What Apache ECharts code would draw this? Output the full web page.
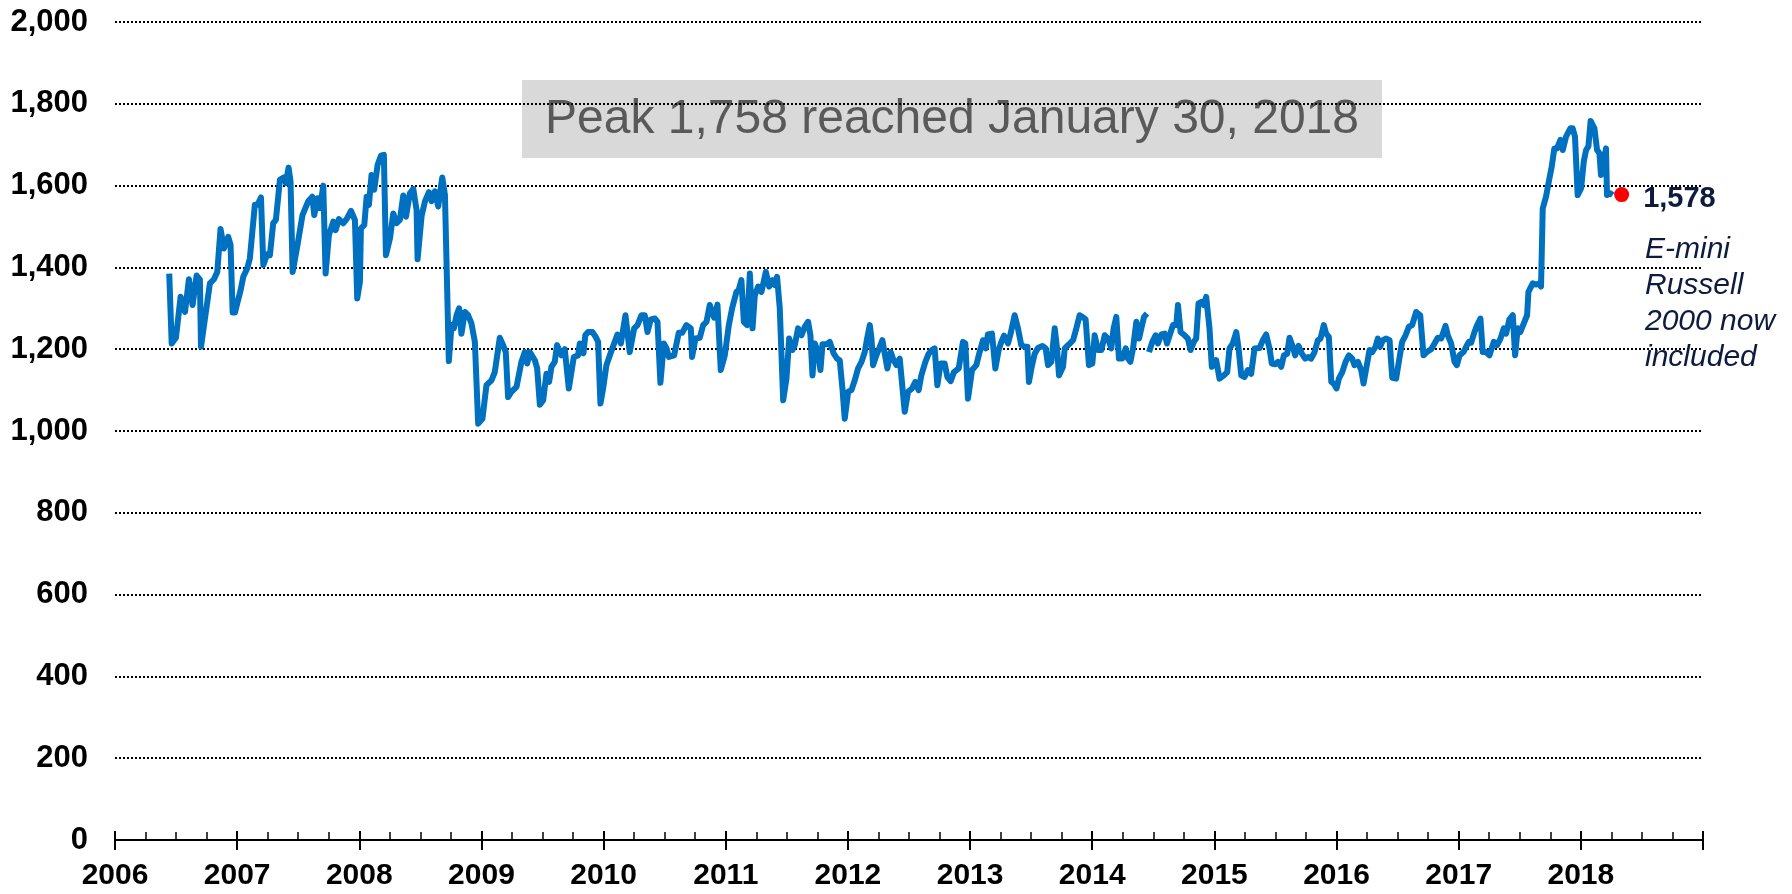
<!DOCTYPE html>
<html>
<head>
<meta charset="utf-8">
<title>Open interest</title>
<script src="https://cdn.jsdelivr.net/npm/echarts@6/dist/echarts.min.js"></script>
<style>
  html, body { margin: 0; padding: 0; background: #fff; }
  #chart { width: 1792px; height: 894px; }
</style>
</head>
<body>
<div id="chart"></div>
<script>
// weekly readings, x as decimal year (null = gap in the data)
var weekYears = [
  2006.444, 2006.464, 2006.499, 2006.537, 2006.573, 2006.605, 2006.635, 2006.668, 2006.695, 2006.704,
  2006.777, 2006.810, 2006.837, 2006.864, 2006.892, 2006.927, 2006.946, 2006.963, 2006.982, 2007.028,
  2007.050, 2007.083, 2007.104, 2007.145, 2007.167, 2007.195, 2007.214, 2007.246, 2007.268, 2007.295,
  2007.317, 2007.350, 2007.383, 2007.399, 2007.421, 2007.437, 2007.454, 2007.492, 2007.508, 2007.535,
  2007.582, 2007.615, 2007.631, 2007.659, 2007.678, 2007.705, 2007.724, 2007.751, 2007.787, 2007.806,
  2007.833, 2007.869, 2007.896, 2007.932, 2007.964, 2007.983, 2008.005, 2008.013, 2008.041, 2008.060,
  2008.079, 2008.100, 2008.122, 2008.150, 2008.177, 2008.201, 2008.218, 2008.251, 2008.278, 2008.305,
  2008.332, 2008.360, 2008.382, 2008.414, 2008.442, 2008.469, 2008.477, 2008.510, 2008.537, 2008.570,
  2008.592, 2008.619, 2008.646, 2008.679, 2008.701, 2008.733, 2008.755, 2008.774, 2008.796, 2008.817,
  2008.836, 2008.864, 2008.891, 2008.918, 2008.946, 2008.973, 2009.008, 2009.041, 2009.082, 2009.109,
  2009.150, 2009.177, 2009.199, 2009.218, 2009.246, 2009.287, 2009.327, 2009.355, 2009.374, 2009.396,
  2009.437, 2009.456, 2009.478, 2009.505, 2009.532, 2009.554, 2009.573, 2009.600, 2009.619, 2009.655,
  2009.682, 2009.715, 2009.756, 2009.791, 2009.805, 2009.835, 2009.850, 2009.873, 2009.908, 2009.935,
  2009.955, 2009.974, 2009.996, 2010.023, 2010.059, 2010.086, 2010.113, 2010.141, 2010.179, 2010.214,
  2010.250, 2010.277, 2010.310, 2010.337, 2010.359, 2010.386, 2010.419, 2010.441, 2010.465, 2010.493,
  2010.515, 2010.534, 2010.577, 2010.615, 2010.643, 2010.678, 2010.714, 2010.724, 2010.752, 2010.787,
  2010.815, 2010.842, 2010.869, 2010.905, 2010.932, 2010.959, 2010.992, 2011.025, 2011.052, 2011.087,
  2011.106, 2011.128, 2011.148, 2011.175, 2011.197, 2011.219, 2011.238, 2011.265, 2011.292, 2011.328,
  2011.355, 2011.382, 2011.401, 2011.420, 2011.442, 2011.470, 2011.497, 2011.519, 2011.546, 2011.565,
  2011.592, 2011.620, 2011.647, 2011.674, 2011.693, 2011.710, 2011.729, 2011.756, 2011.775, 2011.792,
  2011.824, 2011.851, 2011.884, 2011.911, 2011.933, 2011.955, 2011.974, 2012.002, 2012.029, 2012.056,
  2012.083, 2012.111, 2012.138, 2012.157, 2012.179, 2012.193, 2012.206, 2012.233, 2012.261, 2012.282,
  2012.323, 2012.350, 2012.369, 2012.397, 2012.424, 2012.465, 2012.492, 2012.525, 2012.552, 2012.579,
  2012.601, 2012.634, 2012.661, 2012.688, 2012.710, 2012.732, 2012.759, 2012.792, 2012.814, 2012.841,
  2012.868, 2012.907, 2012.942, 2012.961, 2012.983, 2013.016, 2013.051, 2013.078, 2013.106, 2013.128,
  2013.146, 2013.179, 2013.207, 2013.234, 2013.256, 2013.278, 2013.310, 2013.332, 2013.365, 2013.392,
  2013.419, 2013.447, 2013.469, 2013.482, 2013.502, 2013.529, 2013.556, 2013.592, 2013.619, 2013.638,
  2013.665, 2013.693, 2013.712, 2013.728, 2013.761, 2013.775, 2013.810, 2013.843, 2013.870, 2013.897,
  2013.919, 2013.946, 2013.973, 2014.001, 2014.020, 2014.047, 2014.075, 2014.102, 2014.129, 2014.156,
  2014.175, 2014.197, 2014.219, 2014.246, 2014.274, 2014.293, 2014.312, 2014.334, 2014.361, 2014.383,
  2014.402, 2014.424, 2014.448, 2014.456, 2014.465, 2014.492, 2014.519, 2014.538, 2014.566, 2014.593,
  2014.612, 2014.634, 2014.661, 2014.688, 2014.702, 2014.715, 2014.723, 2014.756, 2014.783, 2014.805,
  2014.832, 2014.851, 2014.870, 2014.898, 2014.914, 2014.933, 2014.960, 2014.979, 2015.015, 2015.042,
  2015.078, 2015.105, 2015.124, 2015.151, 2015.179, 2015.198, 2015.220, 2015.247, 2015.274, 2015.301,
  2015.329, 2015.370, 2015.397, 2015.424, 2015.451, 2015.470, 2015.498, 2015.520, 2015.547, 2015.569,
  2015.596, 2015.615, 2015.642, 2015.661, 2015.689, 2015.716, 2015.743, 2015.771, 2015.792, 2015.820,
  2015.847, 2015.869, 2015.896, 2015.915, 2015.937, 2015.957, 2015.976, 2016.000, 2016.019, 2016.047,
  2016.074, 2016.101, 2016.128, 2016.147, 2016.175, 2016.202, 2016.221, 2016.243, 2016.270, 2016.292,
  2016.319, 2016.338, 2016.357, 2016.379, 2016.407, 2016.434, 2016.456, 2016.488, 2016.510, 2016.537,
  2016.565, 2016.592, 2016.619, 2016.652, 2016.685, 2016.712, 2016.739, 2016.775, 2016.802, 2016.829,
  2016.857, 2016.892, 2016.911, 2016.938, 2016.966, 2016.985, 2017.007, 2017.039, 2017.061, 2017.083,
  2017.102, 2017.129, 2017.151, 2017.178, 2017.197, 2017.224, 2017.252, 2017.287, 2017.314, 2017.342,
  2017.369, 2017.388, 2017.415, 2017.443, 2017.462, 2017.483, 2017.505, 2017.538, 2017.560, 2017.571,
  2017.606, 2017.633, 2017.661, 2017.674, 2017.688, 2017.715, 2017.743, 2017.762, 2017.783, 2017.805,
  2017.833, 2017.852, 2017.879, 2017.914, 2017.933, 2017.952, 2017.974, 2018.002, 2018.024, 2018.043,
  2018.062, 2018.080, 2018.089, 2018.111, 2018.133, 2018.152, 2018.165, 2018.187, 2018.206, 2018.214,
  2018.242, 2018.261
];
var contracts = [
  1385, 1214, 1228, 1328, 1291, 1371, 1308, 1380, 1370, 1206,
  1361, 1371, 1389, 1494, 1446, 1475, 1455, 1290, 1290, 1344,
  1377, 1398, 1422, 1553, 1553, 1571, 1406, 1432, 1430, 1508,
  1516, 1614, 1620, 1606, 1644, 1610, 1389, 1451, 1451, 1528,
  1562, 1573, 1528, 1569, 1545, 1600, 1385, 1479, 1512, 1491,
  1518, 1508, 1518, 1538, 1516, 1324, 1365, 1495, 1504, 1573,
  1553, 1626, 1590, 1651, 1673, 1675, 1430, 1471, 1532, 1508,
  1516, 1576, 1524, 1581, 1592, 1540, 1420, 1526, 1561, 1584,
  1562, 1586, 1549, 1620, 1577, 1171, 1259, 1251, 1283, 1300,
  1238, 1291, 1283, 1263, 1218, 1018, 1030, 1112, 1124, 1144,
  1228, 1210, 1193, 1083, 1096, 1108, 1169, 1193, 1165, 1193,
  1173, 1153, 1064, 1075, 1140, 1120, 1157, 1169, 1210, 1185,
  1200, 1104, 1181, 1185, 1214, 1190, 1234, 1242, 1242, 1230,
  1218, 1067, 1104, 1161, 1192, 1214, 1236, 1214, 1283, 1193,
  1251, 1259, 1283, 1283, 1242, 1273, 1275, 1267, 1118, 1214,
  1202, 1181, 1185, 1240, 1240, 1259, 1251, 1181, 1226, 1228,
  1259, 1267, 1308, 1277, 1309, 1149, 1185, 1259, 1300, 1340,
  1345, 1369, 1267, 1259, 1385, 1251, 1332, 1353, 1340, 1389,
  1353, 1369, 1357, 1377, 1300, 1075, 1128, 1226, 1198, 1210,
  1251, 1234, 1255, 1267, 1234, 1136, 1214, 1193, 1149, 1212,
  1212, 1218, 1189, 1177, 1173, 1104, 1030, 1096, 1100, 1124,
  1153, 1169, 1193, 1226, 1259, 1226, 1161, 1185, 1206, 1222,
  1153, 1193, 1177, 1161, 1177, 1047, 1096, 1104, 1120, 1100,
  1136, 1169, 1189, 1198, 1202, 1112, 1165, 1165, 1132, 1122,
  1144, 1153, 1218, 1214, 1079, 1149, 1161, 1193, 1222, 1202,
  1236, 1238, 1153, 1198, 1218, 1233, 1214, 1238, 1283, 1251,
  1210, 1206, 1206, 1120, 1153, 1189, 1203, 1208, 1202, 1161,
  1169, 1251, 1202, 1136, 1157, 1202, 1212, 1222, 1251, 1283,
  1279, 1273, 1161, 1165, 1234, 1198, 1198, 1234, 1226, 1202,
  1251, 1279, 1177, 1177, 1202, 1177, 1169, 1202, 1267, 1226,
  1251, 1279, 1287, null, 1193, 1218, 1234, 1214, 1236, 1238,
  1214, 1234, 1259, 1259, 1308, 1308, 1242, 1234, 1226, 1198,
  1218, 1226, 1312, 1316, 1308, 1328, 1251, 1157, 1173, 1128,
  1136, 1144, 1202, 1214, 1242, 1202, 1136, 1132, 1149, 1140,
  1202, 1203, 1222, 1236, 1202, 1165, 1163, 1169, 1157, 1185,
  1189, 1228, 1206, 1185, 1208, 1189, 1177, 1181, 1177, 1193,
  1222, 1226, 1259, 1238, 1230, 1120, 1116, 1104, 1128, 1144,
  1169, 1185, 1177, 1161, 1169, 1149, 1116, 1153, 1198, 1193,
  1206, 1226, 1206, 1222, 1226, 1222, 1130, 1128, 1169, 1218,
  1234, 1255, 1259, 1291, 1283, 1185, 1193, 1200, 1214, 1228,
  1226, 1257, 1234, 1214, 1169, 1161, 1185, 1193, 1206, 1218,
  1216, 1242, 1259, 1275, 1193, 1193, 1185, 1218, 1210, 1226,
  1251, 1238, 1273, 1283, 1185, 1251, 1242, 1267, 1283, 1340,
  1361, 1358, 1361, 1353, 1544, 1573, 1618, 1647, 1691, 1691,
  1712, 1687, 1720, 1740, 1740, 1720, 1577, 1593, 1659, 1687,
  1696, 1758, 1753, 1740, 1687, 1679, 1626, 1659, 1691, 1577,
  1581, 1577
];
var latestPoint = [2018.334, 1578];
var yearTicks = [2006, 2019];
var peakNote = 'Peak 1,758 reached January 30, 2018';
var sideNote = 'E-mini\nRussell\n2000 now\nincluded';

var seriesData = weekYears.map(function (t, i) { return [t, contracts[i]]; });

var chart = echarts.init(document.getElementById('chart'));
var fontFam = 'Liberation Sans, Arial, sans-serif';

chart.setOption({
  animation: false,
  grid: { left: 115, right: 89, top: 22, bottom: 54 },
  xAxis: [{
    type: 'value',
    min: yearTicks[0],
    max: yearTicks[1],
    interval: 1,
    splitLine: { show: false },
    axisLine: { lineStyle: { color: '#000', width: 2 } },
    axisTick: { length: 10, lineStyle: { color: '#000', width: 2 } },
    axisLabel: {
      margin: 21,
      color: '#000',
      fontSize: 30,
      fontWeight: 'bold',
      fontFamily: fontFam,
      formatter: function (v) { return v === yearTicks[1] ? '' : String(v); }
    }
  }, {
    // ticks going up from the axis line, with the quarter ticks
    type: 'value',
    position: 'bottom',
    min: yearTicks[0],
    max: yearTicks[1],
    interval: 1,
    splitLine: { show: false },
    axisLine: { show: false },
    axisLabel: { show: false },
    axisTick: { inside: true, length: 9, lineStyle: { color: '#000', width: 2 } },
    minorTick: { show: true, splitNumber: 4, length: 8, lineStyle: { color: '#000', width: 1.5 } }
  }],
  yAxis: {
    type: 'value',
    min: 0,
    max: 2000,
    interval: 200,
    axisLine: { show: false },
    axisTick: { show: false },
    splitLine: { lineStyle: { color: '#000', width: 2, type: [2, 2] } },
    axisLabel: {
      margin: 27,
      color: '#000',
      fontSize: 31,
      fontWeight: 'bold',
      fontFamily: fontFam,
      formatter: function (v) { return v.toLocaleString('en-US'); }
    }
  },
  series: [{
    type: 'line',
    data: seriesData,
    showSymbol: false,
    connectNulls: false,
    lineStyle: { color: '#0070c0', width: 6, join: 'round' },
    z: 3
  }, {
    type: 'scatter',
    data: [latestPoint],
    symbolSize: 15,
    itemStyle: { color: '#ff0000', opacity: 1 },
    label: {
      show: true,
      position: 'right',
      distance: 14,
      offset: [0, 4],
      formatter: function (p) { return p.value[1].toLocaleString('en-US'); },
      color: '#0d1b3e',
      opacity: 1,
      fontSize: 29,
      fontWeight: 'bold',
      fontFamily: fontFam
    },
    z: 4
  }],
  graphic: [{
    type: 'group',
    left: 522,
    top: 80,
    z: 10,
    children: [{
      type: 'rect',
      shape: { x: 0, y: 0, width: 860, height: 78 },
      style: { fill: '#d9d9d9' }
    }, {
      type: 'text',
      x: 430,
      y: 40,
      style: {
        text: peakNote,
        align: 'center',
        verticalAlign: 'middle',
        fill: '#595959',
        font: '48px "Liberation Sans", Arial, sans-serif'
      }
    }]
  }, {
    type: 'text',
    left: 1645,
    top: 232,
    z: 10,
    style: {
      text: sideNote,
      fill: '#0d1b3e',
      font: 'italic 30px "Liberation Sans", Arial, sans-serif',
      lineHeight: 36
    }
  }]
});
</script>
</body>
</html>
